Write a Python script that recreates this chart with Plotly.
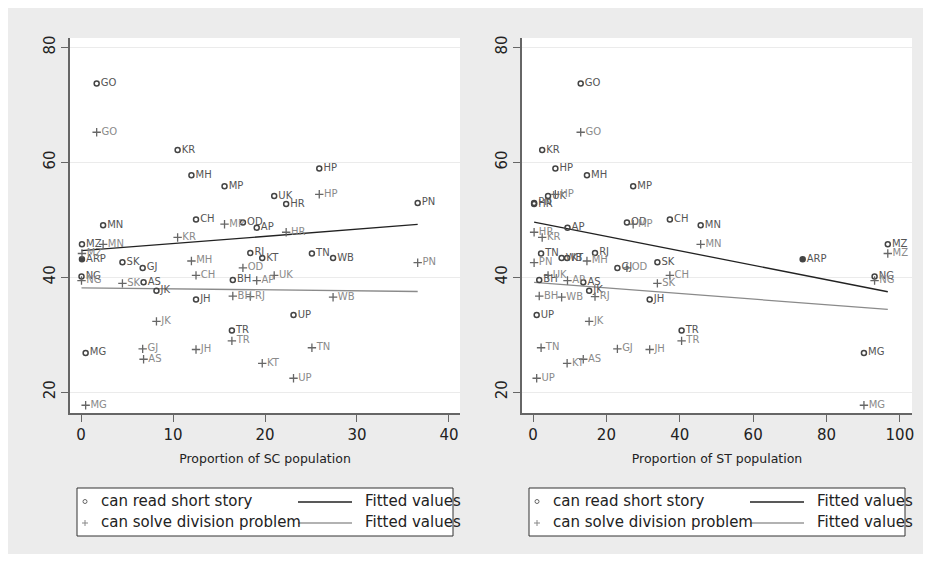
import numpy as np
import plotly.graph_objects as go

# ---------------- data ----------------
states = ["GO", "KR", "MH", "MP", "HP", "UK", "HR", "PN", "MN", "CH", "OD", "AP", "MZ", "ARP",
          "SK", "GJ", "RJ", "KT", "TN", "WB", "NG", "AS", "BH", "JK", "JH", "UP", "TR", "MG"]
sc_prop = [1.7, 10.5, 12.0, 15.6, 25.9, 21.0, 22.3, 36.6, 2.4, 12.5, 17.6, 19.1, 0.1, 0.1,
           4.5, 6.7, 18.4, 19.7, 25.1, 27.4, 0.05, 6.8, 16.5, 8.2, 12.5, 23.1, 16.4, 0.5]
st_prop = [13.0, 2.5, 14.7, 27.3, 6.1, 4.1, 0.3, 0.3, 45.7, 37.3, 25.6, 9.4, 96.7, 73.5,
           33.9, 23.0, 16.9, 9.3, 2.2, 7.8, 93.1, 13.7, 1.7, 15.3, 31.8, 1.0, 40.5, 90.2]
read_story = [73.7, 62.1, 57.7, 55.8, 58.9, 54.1, 52.7, 52.9, 49.0, 50.0, 49.5, 48.6, 45.7, 43.1,
              42.6, 41.6, 44.2, 43.3, 44.1, 43.3, 40.1, 39.1, 39.5, 37.6, 36.1, 33.4, 30.7, 26.8]
solve_div = [65.2, 46.9, 42.8, 49.2, 54.4, 40.3, 47.8, 42.5, 45.7, 40.3, 41.6, 39.4, 44.1, None,
             38.9, 27.5, 36.6, 25.0, 27.7, 36.5, 39.4, 25.7, 36.7, 32.3, 27.4, 22.4, 28.9, 17.7]

sc_ticks = [0, 10, 20, 30, 40]
st_ticks = [0, 20, 40, 60, 80, 100]
y_ticks = [20, 40, 60, 80]
legend_labels = ["can read short story", "can solve division problem", "Fitted values"]

# the page body has an 8px margin; the figure is sized to fit without scrollbars
OFF = 8
W, H = 915, 546
FONT = "DejaVu Sans"


def px(x):
    return (x - OFF) / W


def py(y):
    return 1 - (y - OFF) / H


def fit(xs, ys):
    xa = np.array([a for a, b in zip(xs, ys) if b is not None], dtype=float)
    ya = np.array([b for b in ys if b is not None], dtype=float)
    m, c = np.polyfit(xa, ya, 1)
    xx = np.array([xa.min(), xa.max()])
    return xx, m * xx + c


fig = go.Figure()

read_symbols = ["circle" if s == "ARP" else "circle-open" for s in states]

panels = [
    dict(xa="x", ya="y", xs=sc_prop, title="Proportion of SC population",
         rng=[-1.2, 41.2], ticks=sc_ticks, dx=0),
    dict(xa="x2", ya="y2", xs=st_prop, title="Proportion of ST population",
         rng=[-3.0, 103.3], ticks=st_ticks, dx=452),
]

shapes = []
annotations = []

for p in panels:
    # fitted lines
    fx, fy = fit(p["xs"], read_story)
    fig.add_trace(go.Scatter(x=fx, y=fy, mode="lines", xaxis=p["xa"], yaxis=p["ya"],
                             line=dict(color="#222222", width=1.3), showlegend=False,
                             hoverinfo="skip"))
    fx2, fy2 = fit(p["xs"], solve_div)
    fig.add_trace(go.Scatter(x=fx2, y=fy2, mode="lines", xaxis=p["xa"], yaxis=p["ya"],
                             line=dict(color="#8a8a8a", width=1.3), showlegend=False,
                             hoverinfo="skip"))
    # reading points
    fig.add_trace(go.Scatter(
        x=p["xs"], y=read_story, mode="markers+text", text=states,
        textposition="middle right", xaxis=p["xa"], yaxis=p["ya"],
        textfont=dict(family=FONT, size=10, color="#555555"),
        marker=dict(symbol=read_symbols, size=5, color="#444444",
                    line=dict(width=1.5, color="#444444")),
        showlegend=False, cliponaxis=False))
    # division points
    dx_ = [x for x, v in zip(p["xs"], solve_div) if v is not None]
    dy_ = [v for v in solve_div if v is not None]
    dt_ = [s for s, v in zip(states, solve_div) if v is not None]
    fig.add_trace(go.Scatter(
        x=dx_, y=dy_, mode="markers+text", text=dt_,
        textposition="middle right", xaxis=p["xa"], yaxis=p["ya"],
        textfont=dict(family=FONT, size=10, color="#8a8a8a"),
        marker=dict(symbol="cross-thin", size=6, color="#666666",
                    line=dict(width=1.3, color="#666666")),
        showlegend=False, cliponaxis=False))

    # legend box
    d = p["dx"]
    shapes.append(dict(type="rect", xref="paper", yref="paper",
                       x0=px(77 + d), x1=px(453 + d), y0=py(536), y1=py(488),
                       line=dict(color="#333333", width=1), fillcolor="white", layer="below"))
    shapes.append(dict(type="circle", xref="paper", yref="paper",
                       x0=px(83 + d), x1=px(87 + d), y0=py(503.5), y1=py(499.5),
                       line=dict(color="#666666", width=1)))
    shapes.append(dict(type="line", xref="paper", yref="paper",
                       x0=px(82 + d), x1=px(88 + d), y0=py(523), y1=py(523),
                       line=dict(color="#888888", width=1)))
    shapes.append(dict(type="line", xref="paper", yref="paper",
                       x0=px(85 + d), x1=px(85 + d), y0=py(526), y1=py(520),
                       line=dict(color="#888888", width=1)))
    shapes.append(dict(type="line", xref="paper", yref="paper",
                       x0=px(298 + d), x1=px(352 + d), y0=py(502), y1=py(502),
                       line=dict(color="#222222", width=1.3)))
    shapes.append(dict(type="line", xref="paper", yref="paper",
                       x0=px(298 + d), x1=px(352 + d), y0=py(523), y1=py(523),
                       line=dict(color="#999999", width=1.3)))
    for txt, x, y in [(legend_labels[0], 99, 501), (legend_labels[1], 99, 522),
                      (legend_labels[2], 363, 501), (legend_labels[2], 363, 522)]:
        annotations.append(dict(text=txt, xref="paper", yref="paper", x=px(x + d), y=py(y),
                                xanchor="left", yanchor="middle", showarrow=False,
                                font=dict(family=FONT, size=15, color="#222222")))

axis_common = dict(showline=True, linecolor="#666666", linewidth=1.6, ticks="outside",
                   ticklen=7, tickwidth=1.3, tickcolor="#666666", zeroline=False,
                   automargin=False, tickfont=dict(family=FONT, size=15, color="#222222"))

fig.update_layout(
    template="none",
    width=W, height=H,
    margin=dict(l=0, r=0, t=0, b=0, pad=0),
    paper_bgcolor="#ececec",
    plot_bgcolor="white",
    showlegend=False,
    shapes=shapes,
    annotations=annotations,
    xaxis=dict(domain=[px(70), px(460)], range=panels[0]["rng"], tickvals=sc_ticks,
               showgrid=False, anchor="y",
               title=dict(text=panels[0]["title"], standoff=11,
                          font=dict(family=FONT, size=12.5, color="#222222")),
               **axis_common),
    xaxis2=dict(domain=[px(522), px(912)], range=panels[1]["rng"], tickvals=st_ticks,
                showgrid=False, anchor="y2",
                title=dict(text=panels[1]["title"], standoff=11,
                           font=dict(family=FONT, size=12.5, color="#222222")),
                **axis_common),
    yaxis=dict(domain=[py(413), py(38)], range=[16.35, 81.6], tickvals=y_ticks,
               tickangle=-90, showgrid=True, gridcolor="#ebebeb", gridwidth=1,
               anchor="x", **axis_common),
    yaxis2=dict(domain=[py(413), py(38)], range=[16.35, 81.6], tickvals=y_ticks,
                tickangle=-90, showgrid=True, gridcolor="#ebebeb", gridwidth=1,
                anchor="x2", **axis_common),
)

fig.write_html("out.html")
